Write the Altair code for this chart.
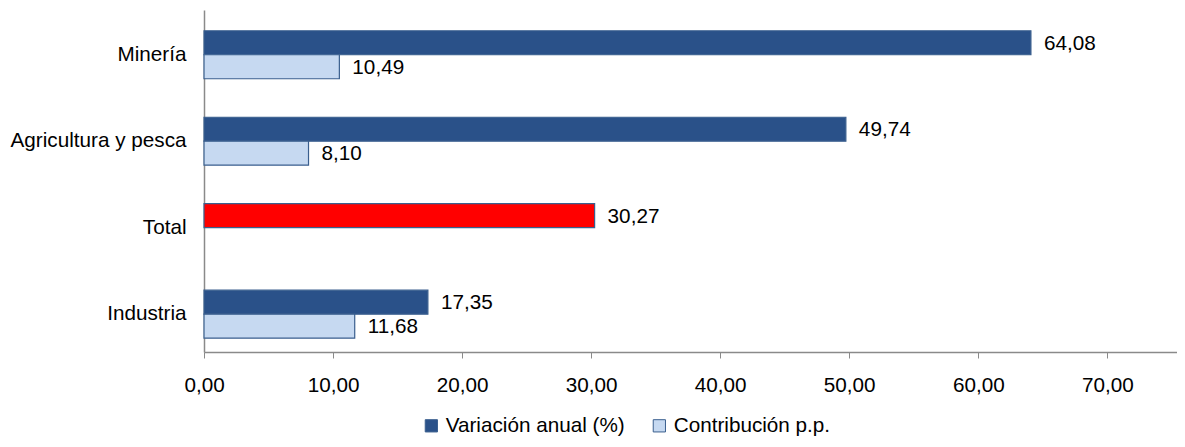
import altair as alt
import pandas as pd

categories = ["Minería", "Agricultura y pesca", "Total", "Industria"]
series_names = ["Variación anual (%)", "Contribución p.p."]
variacion = [64.08, 49.74, 30.27, 17.35]
contribucion = [10.49, 8.10, None, 11.68]
x_ticks = [0, 10, 20, 30, 40, 50, 60, 70]

rows = []
for c, v, k in zip(categories, variacion, contribucion):
    rows.append({"cat": c, "series": series_names[0], "value": v})
    if k is not None:
        rows.append({"cat": c, "series": series_names[1], "value": k})
df = pd.DataFrame(rows)
df["label"] = df["value"].map(lambda v: f"{v:.2f}".replace(".", ","))

FONT = "Liberation Sans"
FS = 20.7
DARK = "#2A5189"
LIGHT = "#C6D9F1"
EDGE = "#3A5F8E"

y_enc = alt.Y(
    "cat:N",
    sort=categories,
    title=None,
    scale=alt.Scale(paddingInner=0.445, paddingOuter=0.2, align=0.6),
    axis=alt.Axis(
        ticks=False,
        labelFontSize=FS,
        labelFont=FONT,
        labelColor="#000000",
        labelPadding=18,
        domainColor="#8a8a8a",
        domainWidth=1.5,
    ),
)
yoff = alt.YOffset("series:N", sort=series_names, scale=alt.Scale(paddingInner=0, paddingOuter=0))
x_enc = alt.X(
    "value:Q",
    title=None,
    scale=alt.Scale(domain=[0, 75.4], nice=False),
    axis=alt.Axis(
        values=x_ticks,
        grid=False,
        labelExpr="replace(format(datum.value, '.2f'), '.', ',')",
        labelFontSize=FS,
        labelFont=FONT,
        labelColor="#000000",
        labelFlush=False,
        tickSize=6,
        tickColor="#8a8a8a",
        domainColor="#8a8a8a",
        domainWidth=1.5,
        labelPadding=17,
    ),
)

bars = alt.Chart(df).mark_bar(stroke=EDGE, strokeWidth=1.2).encode(
    y=y_enc,
    yOffset=yoff,
    x=x_enc,
    color=alt.condition(
        alt.datum.cat == "Total",
        alt.value("#FF0000"),
        alt.Color(
            "series:N",
            sort=series_names,
            scale=alt.Scale(domain=series_names, range=[DARK, LIGHT]),
            legend=alt.Legend(
                title=None,
                orient="none",
                direction="horizontal",
                legendX=217,
                legendY=405,
                symbolType="square",
                symbolSize=150,
                symbolStrokeColor=EDGE,
                symbolStrokeWidth=1,
                labelFontSize=FS,
                labelFont=FONT,
                labelColor="#000000",
                labelLimit=400,
                columnPadding=24,
                labelOffset=4,
                padding=0,
            ),
        ),
    ),
)

labels = alt.Chart(df).mark_text(
    align="left", baseline="middle", dx=13, dy=1, fontSize=FS, font=FONT, color="#000000"
).encode(
    y=alt.Y("cat:N", sort=categories),
    yOffset=alt.YOffset("series:N", sort=series_names),
    x="value:Q",
    text="label:N",
)

chart = (
    alt.layer(bars, labels)
    .properties(
        width=973,
        height=342,
        autosize=alt.AutoSizeParams(type="none"),
        padding={"left": 196, "top": 2, "right": 0, "bottom": 87},
    )
    .configure_view(stroke=None)
)

chart.save("out.html", embed_options={"renderer": "svg", "actions": False})
